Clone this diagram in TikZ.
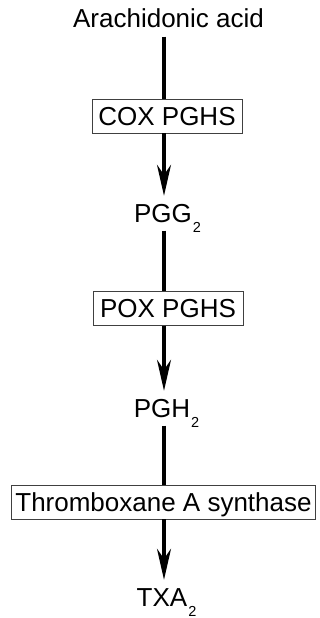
\documentclass[tikz,border=0pt]{standalone}
\usepackage{fontspec}
\setmainfont{Liberation Sans}
\usetikzlibrary{arrows.meta}

% subscript set low and outside the node's width, so the main letters stay centred
\newcommand{\lowsub}[1]{\rlap{\kern1pt\raisebox{-10pt}{\fontsize{14.5}{14.5}\selectfont #1}}}

\begin{document}
\begin{tikzpicture}[x=1pt,y=-1pt,
  every node/.style={font=\fontsize{26}{28}\selectfont, inner sep=0pt},
  label/.style={anchor=base, text height=18pt, text depth=0pt},
  enzyme/.style={draw=black!75, line width=0.9pt, inner xsep=4pt, inner ysep=8pt,
                 text height=18pt, text depth=0pt, minimum height=34pt},
  link/.style={line width=3.2pt, shorten <=8.5pt},
  step arrow/.style={line width=3.2pt, -{Stealth[length=31pt,width=14pt,inset=10pt]},
                 shorten >=8pt}]
  \useasboundingbox (0,0) rectangle (320,618);

  % compounds
  \node[label] (aa)  at (168.5,28)  {Arachidonic acid};
  \node[label] (pgg) at (163,222)   {PGG\lowsub{2}};
  \node[label] (pgh) at (162,417)   {PGH\lowsub{2}};
  \node[label] (txa) at (162,606)   {TXA\lowsub{2}};

  % enzymes
  \node[enzyme, minimum width=150pt] (cox) at (167,116)   {COX PGHS};
  \node[enzyme, minimum width=150pt] (pox) at (168,308.5) {POX PGHS};
  \node[enzyme, minimum width=303pt] (txs) at (163.5,502) {Thromboxane A synthase};

  % pathway
  \draw[link] (aa.south -| 164,0) -- (cox.north -| 164,0);
  \draw[step arrow, shorten <=0pt] (cox.south -| 164,0) -- (pgg.north -| 164,0);
  \draw[link] (pgg.south -| 164,0) -- (pox.north -| 164,0);
  \draw[step arrow, shorten <=0pt] (pox.south -| 164,0) -- (pgh.north -| 164,0);
  \draw[link] (pgh.south -| 164,0) -- (txs.north -| 164,0);
  \draw[step arrow, shorten <=0pt] (txs.south -| 164,0) -- (txa.north -| 164,0);
\end{tikzpicture}
\end{document}
